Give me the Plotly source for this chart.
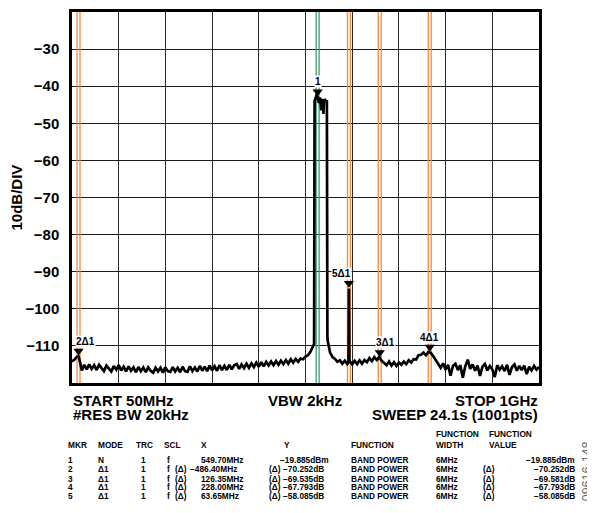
import plotly.graph_objects as go
import numpy as np

# sweep settings
START_MHZ = 50
STOP_MHZ = 1000

# trace level (dBm) at every 5 MHz from START to STOP
TRACE_DBM = [
    -114.2, -113.7, -112.9, -113.6, -116.6, -115.1, -116.3, -115.0, -116.2, -115.2,
    -116.5, -115.1, -116.1, -116.8, -115.3, -116.2, -116.9, -115.4, -116.4, -115.2,
    -116.6, -115.6, -116.9, -115.5, -116.7, -115.8, -117.1, -115.7, -116.8, -115.8,
    -117.1, -115.8, -116.7, -117.2, -115.9, -116.9, -115.9, -117.2, -115.8, -116.8,
    -117.0, -115.7, -116.9, -115.9, -117.1, -115.6, -116.8, -117.0, -115.5, -116.8,
    -115.8, -116.9, -115.4, -116.7, -115.6, -116.8, -115.3, -116.6, -115.5, -116.7,
    -115.2, -116.5, -115.4, -116.5, -115.1, -116.3, -115.2, -114.9, -116.2, -115.0,
    -116.0, -114.8, -115.9, -114.7, -115.7, -114.5, -115.6, -114.4, -115.5, -114.3,
    -115.3, -114.2, -115.2, -114.1, -115.1, -114.0, -114.9, -113.8, -114.8, -113.6,
    -114.5, -113.5, -114.3, -113.4, -113.6, -112.9, -112.5, -111.6, -110.0, -43.0,
    -43.1, -43.4, -43.9, -43.7, -108.5, -111.8, -113.0, -113.5, -114.3, -113.9,
    -114.8, -114.0, -114.9, -114.1, -115.0, -114.0, -114.9, -113.9, -114.8, -113.8,
    -114.4, -113.3, -114.1, -113.0, -113.8, -113.0, -114.0, -114.7, -115.2, -114.2,
    -115.3, -114.4, -115.4, -114.5, -115.1, -114.2, -114.9, -113.9, -114.5, -113.6,
    -113.7, -112.5, -112.4, -111.8, -112.5, -111.6, -111.9, -112.8, -113.9, -115.0,
    -115.9, -114.7, -116.4, -115.1, -118.0, -115.4, -114.8, -116.5, -115.2, -118.6,
    -115.5, -113.7, -116.2, -115.0, -116.7, -115.3, -118.1, -115.6, -114.9, -116.6,
    -115.4, -116.3, -118.4, -115.2, -116.4, -115.5, -116.8, -115.1, -117.8, -115.7,
    -115.0, -116.7, -115.4, -116.5, -115.3, -117.6, -115.6, -116.6, -115.4, -116.4,
    -115.7,
]

# extra points for the carrier edges and the spurious line
DETAIL_MHZ = [63.3, 542.5, 543.5, 547.0, 549.7, 552.0, 553.0, 557.0, 558.0,
              561.5, 562.5, 567.0, 568.5, 569.5, 612.5, 613.35, 614.2]
DETAIL_DBM = [-112.8, -109.5, -44.0, -42.6, -42.9, -44.5, -43.2, -46.5, -43.6,
              -47.5, -43.8, -44.2, -43.8, -107.0, -114.5, -94.5, -114.6]

MARKER_NAMES = ["1", "2Δ1", "3Δ1", "4Δ1", "5Δ1"]
MARKER_MHZ = [549.7, 63.3, 676.05, 777.7, 613.35]
MARKER_DBM = [-42.9, -112.8, -113.2, -111.7, -94.5]
MARKER_COLORS = ["#3a9e74", "#f28a3e", "#f28a3e", "#f28a3e", "#f28a3e"]
LABEL_XSHIFT = [0, 7, 6, 0, -7]
BAND_MHZ = 6

Y_TICKS = [-30, -40, -50, -60, -70, -80, -90, -100, -110]

HEAD_ROW = [("MKR", 67), ("MODE", 97), ("TRC", 135), ("SCL", 163), ("X", 200),
            ("Y", 283), ("FUNCTION", 350), ("WIDTH", 435), ("VALUE", 488)]
HEAD_TOP = [("FUNCTION", 435), ("FUNCTION", 488)]
COL_MKR = ["1", "2", "3", "4", "5"]
COL_MODE = ["N", "Δ1", "Δ1", "Δ1", "Δ1"]
COL_TRC = ["1", "1", "1", "1", "1"]
COL_SCL = ["f", "f", "f", "f", "f"]
COL_XD = ["", "(Δ)", "(Δ)", "(Δ)", "(Δ)"]
COL_X = ["549.70MHz", "−486.40MHz", "126.35MHz", "228.00MHz", "63.65MHz"]
COL_YD = ["", "(Δ)", "(Δ)", "(Δ)", "(Δ)"]
COL_Y = ["−19.885dBm", "−70.252dB", "−69.535dB", "−67.793dB", "−58.085dB"]
COL_FUNC = ["BAND POWER"] * 5
COL_WIDTH = ["6MHz"] * 5
COL_VD = ["", "(Δ)", "(Δ)", "(Δ)", "(Δ)"]
COL_VALUE = ["−19.885dBm", "−70.252dB", "−69.581dB", "−67.793dB", "−58.085dB"]

FONT = "Liberation Sans, Arial, sans-serif"

# plot area in page pixels; the page body adds an 8px margin
OFF = 8
L, R, T, B = 72, 539, 9, 383
W, H = 595 - OFF, 513 - OFF


def px(x, y):
    return (x - L) / (R - L), (B - y) / (B - T)


grid_f = np.linspace(START_MHZ, STOP_MHZ, len(TRACE_DBM))
f_all = np.concatenate([grid_f, DETAIL_MHZ])
d_all = np.concatenate([TRACE_DBM, DETAIL_DBM])
order = np.argsort(f_all, kind="stable")
f_all, d_all = f_all[order], d_all[order]

fig = go.Figure()

# band power integration lines (pair per marker)
for f, c in zip(MARKER_MHZ, MARKER_COLORS):
    xs, ys = [], []
    for edge in (f - BAND_MHZ / 2, f + BAND_MHZ / 2):
        xs += [edge, edge, None]
        ys += [-120, -20, None]
    fig.add_trace(go.Scatter(x=xs, y=ys, mode="lines",
                             line=dict(color=c, width=1.3),
                             hoverinfo="skip", showlegend=False))

fig.add_trace(go.Scatter(x=f_all, y=d_all, mode="lines",
                         line=dict(color="black", width=2.7),
                         showlegend=False))

fig.add_trace(go.Scatter(x=MARKER_MHZ, y=[d + 1.4 for d in MARKER_DBM],
                         mode="markers",
                         marker=dict(symbol="triangle-down", size=9, color="black"),
                         showlegend=False))

ann = []
for name, f, d, sh in zip(MARKER_NAMES, MARKER_MHZ, MARKER_DBM, LABEL_XSHIFT):
    ann.append(dict(x=f, y=d, xref="x", yref="y", text=name, showarrow=False,
                    yshift=15, xshift=sh, bgcolor="white", borderpad=0,
                    font=dict(size=10, family=FONT, weight="bold", color="black")))


def text(x, y, s, size=15, xanchor="left", angle=0, color="black", weight="bold"):
    xp, yp = px(x, y)
    ann.append(dict(x=xp, y=yp, xref="paper", yref="paper", text=s,
                    showarrow=False, xanchor=xanchor, yanchor="middle",
                    textangle=angle, borderpad=0,
                    font=dict(size=size, family=FONT, weight=weight, color=color)))


text(16, 196, "10dB/DIV", xanchor="center", angle=-90)
text(72, 401, "START 50MHz")
text(72, 415, "#RES BW 20kHz")
text(305, 401, "VBW 2kHz", xanchor="center")
text(539, 401, "STOP 1GHz", xanchor="right")
text(539, 415, "SWEEP 24.1s (1001pts)", xanchor="right")

TS = 8.3
for s, x in HEAD_TOP:
    text(x, 434, s, size=TS)
for s, x in HEAD_ROW:
    text(x, 446, s, size=TS)

row_y = [461, 470, 479.3, 488.3, 497.3]
for i, y in enumerate(row_y):
    text(67, y, COL_MKR[i], size=TS)
    text(97, y, COL_MODE[i], size=TS)
    text(140, y, COL_TRC[i], size=TS)
    text(166, y, COL_SCL[i], size=TS)
    text(174, y, COL_XD[i], size=TS)
    text(189 if COL_X[i].startswith("−") else 200, y, COL_X[i], size=TS)
    text(268, y, COL_YD[i], size=TS)
    text(282 if COL_YD[i] else 279, y, COL_Y[i], size=TS)
    text(350, y, COL_FUNC[i], size=TS)
    text(435, y, COL_WIDTH[i], size=TS)
    text(482, y, COL_VD[i], size=TS)
    text(576, y, COL_VALUE[i], size=TS, xanchor="right")

text(587, 472, "09616-148", size=12.5, xanchor="center", angle=-90,
     color="#6a6a6a", weight="normal")

fig.update_layout(
    width=W, height=H,
    margin=dict(l=L - OFF, r=595 - R, t=T - OFF, b=513 - B),
    paper_bgcolor="white", plot_bgcolor="white",
    font=dict(family=FONT, size=15, color="black", weight="bold"),
    annotations=ann,
    xaxis=dict(range=[START_MHZ, STOP_MHZ], tick0=START_MHZ, dtick=95,
               showticklabels=False, ticks="", showgrid=True,
               gridcolor="#2a2a2a", gridwidth=1.3, zeroline=False,
               showline=True, mirror=True, linecolor="black", linewidth=2.5),
    yaxis=dict(range=[-120, -20], tickvals=Y_TICKS,
               ticktext=[str(v).replace("-", "−") for v in Y_TICKS],
               showgrid=True, gridcolor="#1a1a1a", gridwidth=1.3, zeroline=False,
               ticks="", ticklabelstandoff=7,
               showline=True, mirror=True, linecolor="black", linewidth=2.5,
               tickfont=dict(size=15, family=FONT, weight="bold")),
)

fig.write_html("out.html")
